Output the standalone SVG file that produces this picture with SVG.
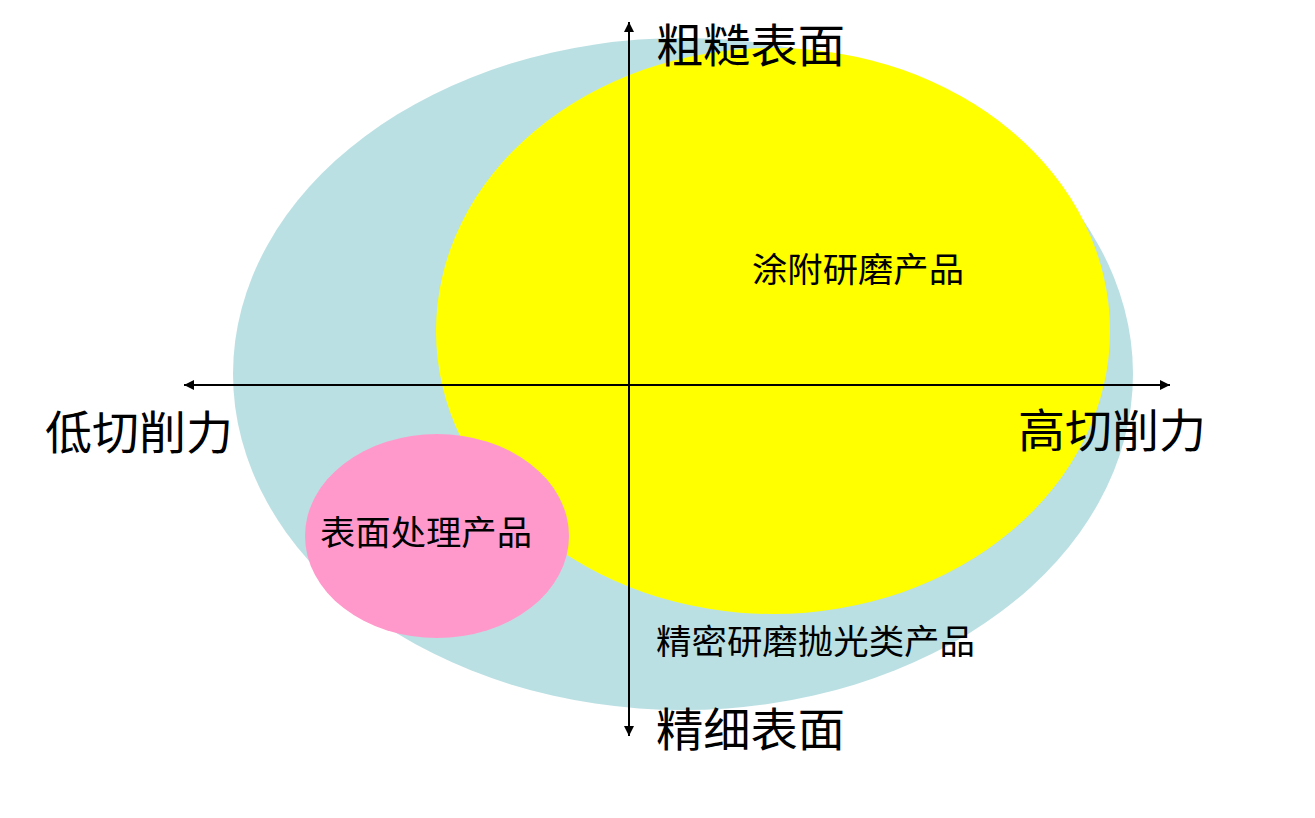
<svg xmlns="http://www.w3.org/2000/svg" width="1315" height="818" viewBox="0 0 1315 818">
<style>
.lbl{font-family:"Noto Sans CJK SC","Noto Sans CJK TC",sans-serif;fill:#000;}
.big{font-size:46px;}
.mid{font-size:34px;}
.ax{stroke:#000;stroke-width:2;fill:none;}
</style>
<defs>
<marker id="ah" viewBox="0 0 10 10" refX="10" refY="5" markerWidth="10" markerHeight="10" markerUnits="userSpaceOnUse" orient="auto">
<path d="M0,0 L10,5 L0,10 Z" fill="#000"/>
</marker>
</defs>
<rect width="1315" height="818" fill="#fff"/>
<g id="precision">
<ellipse cx="683" cy="374" rx="450" ry="336" fill="#BBE0E3"/>
<text class="lbl mid" x="656" y="654" textLength="319" lengthAdjust="spacingAndGlyphs">精密研磨抛光类产品</text>
</g>
<g id="coated">
<ellipse cx="773" cy="331" rx="337" ry="283" fill="#FFFF00"/>
<text class="lbl mid" x="752" y="282" textLength="212" lengthAdjust="spacingAndGlyphs">涂附研磨产品</text>
</g>
<g id="surface">
<ellipse cx="437" cy="536" rx="132" ry="102" fill="#FF99CC"/>
<text class="lbl mid" x="320" y="545" textLength="212" lengthAdjust="spacingAndGlyphs">表面处理产品</text>
</g>
<g id="connectors">
<line class="ax" x1="186" y1="385" x2="1170" y2="385" marker-end="url(#ah)"/>
<line class="ax" x1="1168" y1="385" x2="184" y2="385" marker-end="url(#ah)"/>
<line class="ax" x1="629" y1="735" x2="629" y2="22" marker-end="url(#ah)"/>
<line class="ax" x1="629" y1="30" x2="629" y2="736" marker-end="url(#ah)"/>
</g>
<g id="axis-labels">
<text class="lbl big" x="656" y="62" textLength="189" lengthAdjust="spacingAndGlyphs">粗糙表面</text>
<text class="lbl big" x="656" y="746" textLength="189" lengthAdjust="spacingAndGlyphs">精细表面</text>
<text class="lbl big" x="45" y="449" textLength="188" lengthAdjust="spacingAndGlyphs">低切削力</text>
<text class="lbl big" x="1018" y="447" textLength="188" lengthAdjust="spacingAndGlyphs">高切削力</text>
</g>
</svg>
